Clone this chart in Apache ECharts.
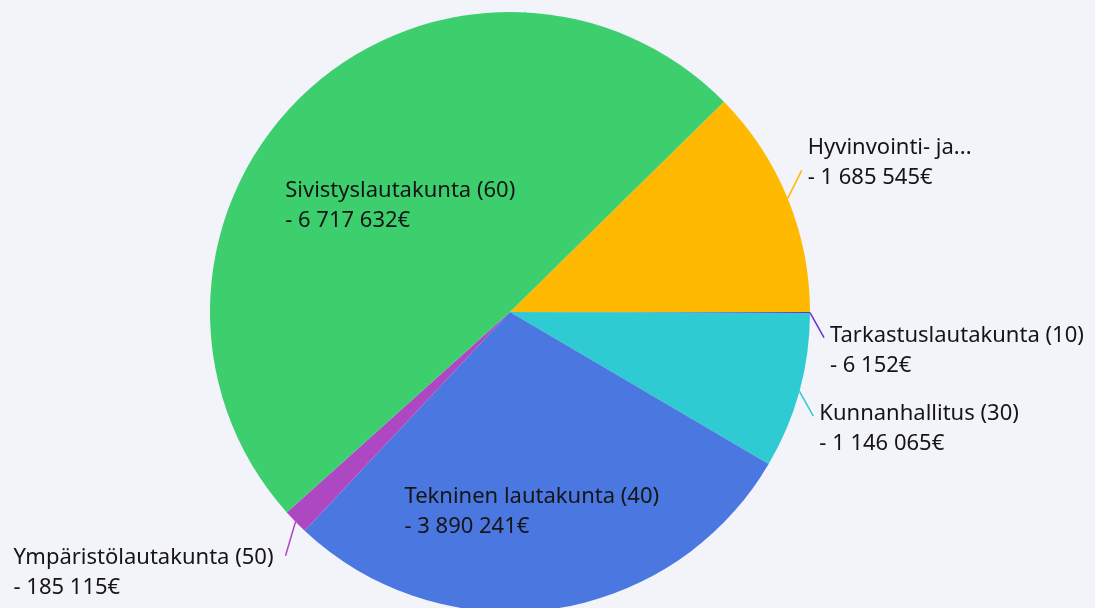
<!DOCTYPE html>
<html>
<head>
<meta charset="utf-8">
<style>
  html, body { margin: 0; padding: 0; background: #f3f4f9; }
  #main { width: 1095px; height: 608px; }
</style>
<script src="https://cdn.jsdelivr.net/npm/echarts@6/dist/echarts.min.js"></script>
</head>
<body>
<div id="main"></div>
<script>
// data
var names = [
  'Hyvinvointi- ja...',
  'Tarkastuslautakunta (10)',
  'Kunnanhallitus (30)',
  'Tekninen lautakunta (40)',
  'Ympäristölautakunta (50)',
  'Sivistyslautakunta (60)'
];
var values = [1685545, 6152, 1146065, 3890241, 185115, 6717632];
var colors = ['#ffb900', '#6a30d0', '#2ecbd3', '#4a77e0', '#ae47c2', '#3dcf6e'];
// big slices carry their label inside
var insideOffsets = {
  'Sivistyslautakunta (60)': [-5, 5],
  'Tekninen lautakunta (40)': [0, 48]
};

var CX = 510, CY = 312;

function fmt(v) {
  return String(v).replace(/\B(?=(\d{3})+(?!\d))/g, ' ');
}

var seriesData = names.map(function (n, i) {
  var item = { name: n, value: values[i], itemStyle: { color: colors[i] } };
  if (insideOffsets[n]) {
    item.label = { position: 'inside', offset: insideOffsets[n] };
  }
  return item;
});

var option = {
  backgroundColor: '#f3f4f9',
  animation: false,
  series: [{
    type: 'pie',
    center: [CX, CY],
    radius: 300,
    startAngle: 44.5,
    clockwise: true,
    avoidLabelOverlap: false,
    data: seriesData,
    label: {
      show: true,
      position: 'outside',
      formatter: function (p) { return p.name + '\n- ' + fmt(p.value) + '€'; },
      color: '#151515',
      fontFamily: 'Noto Sans',
      fontSize: 22,
      lineHeight: 30,
      align: 'left'
    },
    labelLine: {
      show: true,
      length: 20,
      length2: 0,
      lineStyle: { width: 1.5 }
    },
    labelLayout: function (params) {
      var pts = params.labelLinePoints;
      var r = params.labelRect;
      if (!pts) {
        // inside labels: keep the spot, left-align lines
        return { x: r.x, y: r.y + r.height / 2, align: 'left', verticalAlign: 'middle' };
      }
      var s = pts[0];
      var right = s[0] > CX;
      var up = s[1] < CY - 5;
      var ex = s[0] + (right ? 14 : -10);
      var ey = s[1] + (up ? -28 : (right ? 25 : 34));
      return {
        x: right ? ex + 6 : ex - 12 - r.width,
        y: ey + (up ? -8 : (right ? 13 : 17)),
        align: 'left',
        verticalAlign: 'middle',
        labelLinePoints: [[s[0], s[1]], [ex, ey]]
      };
    }
  }]
};

echarts.init(document.getElementById('main')).setOption(option);
</script>
</body>
</html>
